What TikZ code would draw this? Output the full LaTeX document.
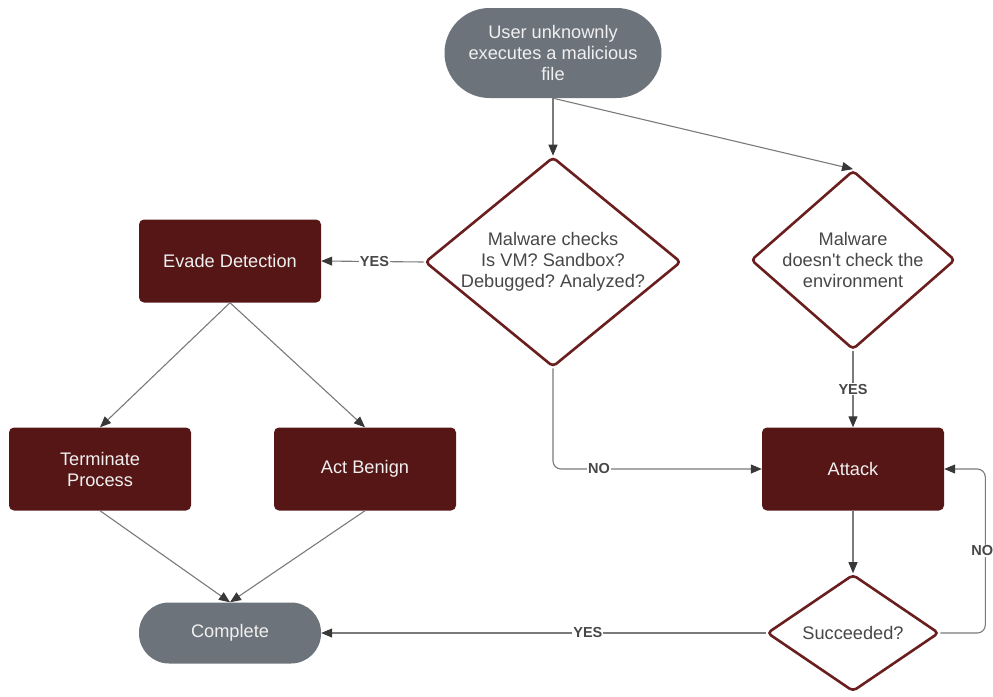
\documentclass[tikz,border=0pt]{standalone}
\usepackage{fontspec}
\setmainfont{Liberation Sans}
\usetikzlibrary{shapes.geometric, arrows.meta}

\definecolor{pillgray}{HTML}{6C737B}
\definecolor{maroon}{HTML}{561616}
\definecolor{rimred}{HTML}{6A1E1E}
\definecolor{linegray}{HTML}{7A7A7A}
\definecolor{textgray}{HTML}{474747}

\frenchspacing

\begin{document}
\begin{tikzpicture}[x=1pt, y=-1pt,
  pill/.style={draw=none, fill=pillgray, text=white!94!black, rounded corners=#1,
    align=center, font=\fontsize{18.2}{21}\selectfont, inner sep=0pt},
  box/.style={fill=maroon, text=white!94!black, rounded corners=5pt, align=center,
    minimum width=182pt, minimum height=83pt, inner sep=0pt,
    font=\fontsize{18.2}{21}\selectfont},
  choice/.style={diamond, draw=rimred, line width=2.6pt, fill=white, rounded corners=4pt,
    text=textgray, align=center, inner sep=0pt, font=\fontsize{18.2}{21}\selectfont},
  flow/.style={draw=linegray, line width=1.1pt,
    -{Triangle[length=11pt, width=9pt, color=black!78]}},
  lbl/.style={fill=white, text=textgray, inner sep=1pt, font=\fontsize{14.5}{16}\selectfont\bfseries}]

  \useasboundingbox (0,0) rectangle (993,696);

  % Start and end
  \node[pill=45pt, minimum width=217pt, minimum height=90pt] (start) at (553,53)
    {User unknownly\\executes a malicious\\file};
  \node[pill=30pt, minimum width=182pt, minimum height=61pt] (done) at (230,633) {Complete};

  % Decisions
  \node[choice, aspect=1.22, minimum width=252pt, minimum height=207pt] (checks) at (553,262)
    {Malware checks\\Is VM? Sandbox?\\Debugged? Analyzed?};
  \node[choice, aspect=1.14, minimum width=199pt, minimum height=175pt] (nocheck) at (853,260)
    {Malware\\doesn\textquotesingle t check the\\environment};
  \node[choice, aspect=1.47, minimum width=172pt, minimum height=117pt] (succ) at (853,633)
    {Succeeded?};

  % Actions
  \node[box] (evade) at (230,261) {Evade Detection};
  \node[box] (term) at (100,469) {Terminate\\Process};
  \node[box] (benign) at (365,469) {Act Benign};
  \node[box] (attack) at (853,469) {Attack};

  % Connectors
  \draw[flow] (start.south) -- (checks.north);
  \draw[flow] (start.south) -- (nocheck.north);
  \draw[flow] (checks.west) -- node[lbl, pos=0.48] {YES} (evade.east);
  \draw[flow] (evade.south) -- (term.north);
  \draw[flow] (evade.south) -- (benign.north);
  \draw[flow, rounded corners=8pt] (checks.south) |- node[lbl, pos=0.61] {NO} (attack.west);
  \draw[flow] (nocheck.south) -- node[lbl] {YES} (attack.north);
  \draw[flow] (term.south) -- (done.north);
  \draw[flow] (benign.south) -- (done.north);
  \draw[flow] (attack.south) -- (succ.north);
  \draw[flow] (succ.west) -- node[lbl, pos=0.4] {YES} (done.east);
  \draw[flow, rounded corners=8pt] (succ.east) -- ++(45,0) |- node[lbl, pos=0.25, xshift=-3pt] {NO} (attack.east);

\end{tikzpicture}
\end{document}
